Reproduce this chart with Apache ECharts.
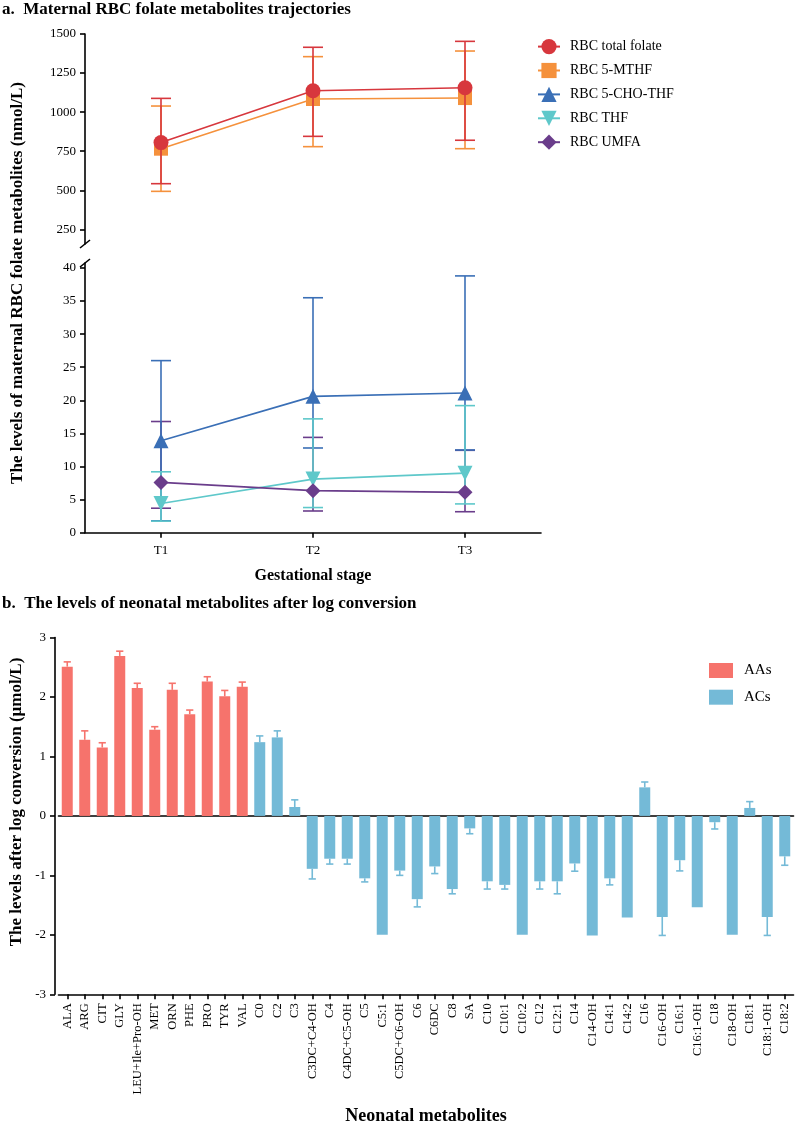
<!DOCTYPE html>
<html>
<head>
<meta charset="utf-8">
<script src="https://cdn.jsdelivr.net/npm/echarts@6/dist/echarts.min.js"></script>
<style>html,body{margin:0;padding:0;background:#fff}#c{width:797px;height:1129px}</style>
</head>
<body>
<div id="c"></div>
<script>
// ---------- Panel a data ----------
const stages = ['T1', 'T2', 'T3'];
const totalFolate = [805, 1137, 1156];
const totalFolateLow = [542, 845, 820];
const totalFolateHigh = [1088, 1415, 1453];
const mthf = [766, 1084, 1090];
const mthfLow = [493, 779, 766];
const mthfHigh = [1039, 1355, 1391];
const choThf = [13.9, 20.6, 21.1];
const choThfLow = [1.8, 12.8, 12.5];
const choThfHigh = [26.0, 35.5, 38.8];
const thf = [4.4, 8.1, 9.0];
const thfLow = [1.75, 3.8, 4.35];
const thfHigh = [9.2, 17.2, 19.2];
const umfa = [7.6, 6.35, 6.1];
const umfaLow = [3.7, 3.28, 3.17];
const umfaHigh = [16.8, 14.4, 12.45];
const upperTicks = [250, 500, 750, 1000, 1250, 1500];
const lowerTicks = [0, 5, 10, 15, 20, 25, 30, 35, 40];

// ---------- Panel b data ----------
const metabolites = ['ALA','ARG','CIT','GLY','LEU+Ile+Pro-OH','MET','ORN','PHE','PRO','TYR','VAL',
  'C0','C2','C3','C3DC+C4-OH','C4','C4DC+C5-OH','C5','C5:1','C5DC+C6-OH','C6','C6DC','C8','SA',
  'C10','C10:1','C10:2','C12','C12:1','C14','C14-OH','C14:1','C14:2','C16','C16-OH','C16:1',
  'C16:1-OH','C18','C18-OH','C18:1','C18:1-OH','C18:2'];
const aaValues = [2.51, 1.28, 1.15, 2.69, 2.15, 1.45, 2.12, 1.71, 2.26, 2.01, 2.17];
const aaErrEnd = [2.59, 1.43, 1.23, 2.77, 2.23, 1.50, 2.23, 1.78, 2.34, 2.11, 2.25];
const acValues = [1.24, 1.32, 0.15, -0.89, -0.72, -0.72, -1.05, -2.0, -0.92, -1.40, -0.85, -1.23, -0.21,
  -1.10, -1.16, -2.0, -1.10, -1.10, -0.80, -2.01, -1.05, -1.71, 0.48, -1.70, -0.745, -1.535, -0.106,
  -2.0, 0.134, -1.70, -0.68];
const acErrEnd = [1.345, 1.43, 0.27, -1.06, -0.81, -0.81, -1.11, -2.0, -1.0, -1.53, -0.97, -1.31, -0.30,
  -1.23, -1.23, -2.0, -1.23, -1.31, -0.93, -2.01, -1.16, -1.71, 0.57, -2.01, -0.925, -1.535, -0.22,
  -2.0, 0.24, -2.01, -0.83];
const bottomTicks = [-3, -2, -1, 0, 1, 2, 3];

// ---------- styles ----------
const SERIF = "'Liberation Serif', 'Times New Roman', serif";
const C = {
  total: '#d7373d', mthf: '#f5913c', cho: '#3a6fb6', thf: '#5ec8ca', umfa: '#6a3d8b',
  aa: '#f6736c', ac: '#74bad7'
};

function errRange(color) {
  return function (params, api) {
    const x = api.value(0);
    const lo = api.coord([x, api.value(1)]);
    const hi = api.coord([x, api.value(2)]);
    const hw = 10;
    const st = { stroke: color, lineWidth: 1.6 };
    return { type: 'group', children: [
      { type: 'line', shape: { x1: lo[0], y1: lo[1], x2: hi[0], y2: hi[1] }, style: st },
      { type: 'line', shape: { x1: lo[0] - hw, y1: lo[1], x2: lo[0] + hw, y2: lo[1] }, style: st },
      { type: 'line', shape: { x1: hi[0] - hw, y1: hi[1], x2: hi[0] + hw, y2: hi[1] }, style: st }
    ]};
  };
}
function errOneSide(color) {
  return function (params, api) {
    const x = api.value(0);
    const a = api.coord([x, api.value(1)]);
    const b = api.coord([x, api.value(2)]);
    if (Math.abs(a[1] - b[1]) < 0.6) return null;
    const hw = 3.6;
    const st = { stroke: color, lineWidth: 1.6 };
    return { type: 'group', children: [
      { type: 'line', shape: { x1: a[0], y1: a[1], x2: b[0], y2: b[1] }, style: st },
      { type: 'line', shape: { x1: b[0] - hw, y1: b[1], x2: b[0] + hw, y2: b[1] }, style: st }
    ]};
  };
}
function rangeData(lo, hi) { return lo.map((v, i) => [i, v, hi[i]]); }

function lineSeries(name, data, color, symbol, size, xi, yi, z) {
  return {
    name, type: 'line', data, xAxisIndex: xi, yAxisIndex: yi, z,
    symbol, symbolSize: size, color,
    lineStyle: { color, width: 1.6 }, itemStyle: { color },
    emphasis: { disabled: true }, animation: false
  };
}
function errSeries(lo, hi, color, xi, yi, z) {
  return {
    type: 'custom', xAxisIndex: xi, yAxisIndex: yi, z, silent: true, animation: false,
    renderItem: errRange(color), data: rangeData(lo, hi),
    encode: { x: 0, y: [1, 2] }
  };
}

const axisLineStyle = { show: true, lineStyle: { color: '#000', width: 1.6 } };
const tickStyle = { show: true, length: 5, lineStyle: { color: '#000', width: 1.6 } };
const plain = v => String(v);

const aaSeriesData = aaValues.concat(acValues.map(() => '-'));
const acSeriesData = aaValues.map(() => '-').concat(acValues);
const aaErrData = aaValues.map((v, i) => [i, v, aaErrEnd[i]]);
const acErrData = acValues.map((v, i) => [i + aaValues.length, v, acErrEnd[i]]);

const option = {
  animation: false,
  backgroundColor: '#fff',
  textStyle: { fontFamily: SERIF },
  grid: [
    { left: 85, width: 456, top: 34, height: 210 },
    { left: 85, width: 456, top: 263, height: 269.7 },
    { left: 58.5, width: 735, top: 637.5, height: 356.8 }
  ],
  xAxis: [
    { type: 'category', gridIndex: 0, data: stages, show: false },
    { type: 'category', gridIndex: 1, data: stages,
      axisLine: { ...axisLineStyle, onZero: false },
      axisTick: { ...tickStyle, alignWithLabel: true },
      axisLabel: { color: '#000', fontSize: 13, fontFamily: SERIF, margin: 11 } },
    { type: 'category', gridIndex: 2, data: metabolites,
      axisLine: { ...axisLineStyle, onZero: false },
      axisTick: { ...tickStyle, alignWithLabel: true, interval: 0 },
      axisLabel: { color: '#000', fontSize: 12.5, fontFamily: SERIF, rotate: 90, interval: 0, margin: 9 } },
    { type: 'category', gridIndex: 2, data: metabolites,
      axisLine: { show: true, onZero: true, lineStyle: { color: '#000', width: 1.6 } },
      axisTick: { show: false }, axisLabel: { show: false } }
  ],
  yAxis: [
    { type: 'value', gridIndex: 0, min: 156, max: 1500,
      axisLine: axisLineStyle, axisTick: { ...tickStyle, customValues: upperTicks },
      axisLabel: { color: '#000', fontSize: 13, fontFamily: SERIF, margin: 9, customValues: upperTicks, formatter: plain },
      splitLine: { show: false } },
    { type: 'value', gridIndex: 1, min: 0, max: 40.75,
      axisLine: axisLineStyle, axisTick: { ...tickStyle, customValues: lowerTicks },
      axisLabel: { color: '#000', fontSize: 13, fontFamily: SERIF, margin: 9, customValues: lowerTicks, formatter: plain },
      splitLine: { show: false } },
    { type: 'value', gridIndex: 2, min: -3, max: 3, interval: 1, offset: 3.5,
      axisLine: axisLineStyle, axisTick: { ...tickStyle, customValues: bottomTicks },
      axisLabel: { color: '#000', fontSize: 13, fontFamily: SERIF, margin: 9, customValues: bottomTicks, formatter: plain },
      splitLine: { show: false } }
  ],
  legend: [
    { orient: 'vertical', left: 532, top: 34, itemWidth: 22, itemHeight: 19, itemGap: 8.7,
      data: ['RBC total folate', 'RBC 5-MTHF', 'RBC 5-CHO-THF', 'RBC THF', 'RBC UMFA'],
      textStyle: { color: '#000', fontSize: 14, fontFamily: SERIF, padding: [0, 0, 0, 5] },
      selectedMode: false },
    { orient: 'vertical', left: 704, top: 658, itemWidth: 24, itemHeight: 15, itemGap: 11.7,
      data: ['AAs', 'ACs'], icon: 'rect',
      textStyle: { color: '#000', fontSize: 15, fontFamily: SERIF, padding: [0, 0, 0, 6] },
      selectedMode: false }
  ],
  series: [
    errSeries(mthfLow, mthfHigh, C.mthf, 0, 0, 2),
    lineSeries('RBC 5-MTHF', mthf, C.mthf, 'rect', 14, 0, 0, 3),
    errSeries(totalFolateLow, totalFolateHigh, C.total, 0, 0, 4),
    lineSeries('RBC total folate', totalFolate, C.total, 'circle', 15, 0, 0, 5),
    errSeries(umfaLow, umfaHigh, C.umfa, 1, 1, 2),
    errSeries(choThfLow, choThfHigh, C.cho, 1, 1, 3),
    lineSeries('RBC 5-CHO-THF', choThf, C.cho, 'triangle', 15, 1, 1, 4),
    errSeries(thfLow, thfHigh, C.thf, 1, 1, 5),
    lineSeries('RBC THF', thf, C.thf, 'path://M0,0 L10,0 L5,9 Z', 15, 1, 1, 6),
    lineSeries('RBC UMFA', umfa, C.umfa, 'diamond', 15, 1, 1, 7),
    { name: 'AAs', type: 'bar', xAxisIndex: 2, yAxisIndex: 2, data: aaSeriesData, barWidth: 11,
      barGap: '-100%', itemStyle: { color: C.aa }, emphasis: { disabled: true } },
    { name: 'ACs', type: 'bar', xAxisIndex: 2, yAxisIndex: 2, data: acSeriesData, barWidth: 11,
      barGap: '-100%', itemStyle: { color: C.ac }, emphasis: { disabled: true } },
    { type: 'custom', xAxisIndex: 2, yAxisIndex: 2, silent: true, renderItem: errOneSide(C.aa),
      data: aaErrData, encode: { x: 0, y: [1, 2] } },
    { type: 'custom', xAxisIndex: 2, yAxisIndex: 2, silent: true, renderItem: errOneSide(C.ac),
      data: acErrData, encode: { x: 0, y: [1, 2] } }
  ],
  graphic: [
    { type: 'text', x: 2, y: 10, style: { text: 'a.  Maternal RBC folate metabolites trajectories',
      font: 'bold 17px ' + SERIF, fill: '#000', align: 'left', verticalAlign: 'middle' } },
    { type: 'text', x: 2, y: 604, style: { text: 'b.  The levels of neonatal metabolites after log conversion',
      font: 'bold 17px ' + SERIF, fill: '#000', align: 'left', verticalAlign: 'middle' } },
    { type: 'text', x: 18, y: 283, rotation: Math.PI / 2, style: {
      text: 'The levels of maternal RBC folate metabolites (nmol/L)',
      font: 'bold 17px ' + SERIF, fill: '#000', align: 'center', verticalAlign: 'middle' } },
    { type: 'text', x: 17, y: 802, rotation: Math.PI / 2, style: {
      text: 'The levels after log conversion (\u03bcmol/L)',
      font: 'bold 17px ' + SERIF, fill: '#000', align: 'center', verticalAlign: 'middle' } },
    { type: 'text', x: 313, y: 576, style: { text: 'Gestational stage',
      font: 'bold 16px ' + SERIF, fill: '#000', align: 'center', verticalAlign: 'middle' } },
    { type: 'text', x: 426, y: 1116, style: { text: 'Neonatal metabolites',
      font: 'bold 18px ' + SERIF, fill: '#000', align: 'center', verticalAlign: 'middle' } },
    { type: 'line', shape: { x1: 80, y1: 248, x2: 90, y2: 240 }, style: { stroke: '#000', lineWidth: 1.6 } },
    { type: 'line', shape: { x1: 80, y1: 267, x2: 90, y2: 259 }, style: { stroke: '#000', lineWidth: 1.6 } }
  ]
};

const chart = echarts.init(document.getElementById('c'), null, { renderer: 'canvas' });
chart.setOption(option);
</script>
</body>
</html>
